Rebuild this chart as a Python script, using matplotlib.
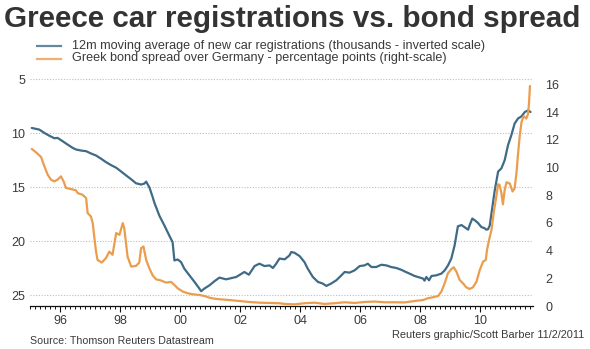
import numpy as np
import matplotlib
matplotlib.use('Agg')
import matplotlib.pyplot as plt
from matplotlib.ticker import FixedLocator, MultipleLocator

plt.rcParams['font.family'] = ['Liberation Sans', 'DejaVu Sans']

# 12m moving average of new car registrations, thousands (left, inverted)
car_years = [1995.06, 1995.31, 1995.48, 1995.64, 1995.81, 1995.92, 1996.09, 1996.25, 1996.42, 1996.53,
             1996.70, 1996.87, 1997.03, 1997.20, 1997.37, 1997.53, 1997.70, 1997.87, 1998.03, 1998.20,
             1998.37, 1998.53, 1998.70, 1998.81, 1998.87, 1998.98, 1999.09, 1999.14, 1999.31, 1999.48,
             1999.64, 1999.75, 1999.81, 1999.92, 2000.03, 2000.14, 2000.31, 2000.48, 2000.64, 2000.70,
             2000.81, 2000.98, 2001.14, 2001.31, 2001.53, 2001.87, 2002.14, 2002.29, 2002.48, 2002.64,
             2002.81, 2002.98, 2003.09, 2003.20, 2003.31, 2003.48, 2003.64, 2003.70, 2003.81, 2003.98,
             2004.14, 2004.25, 2004.42, 2004.59, 2004.75, 2004.87, 2005.03, 2005.20, 2005.37, 2005.48,
             2005.64, 2005.81, 2005.98, 2006.14, 2006.25, 2006.37, 2006.53, 2006.70, 2006.87, 2007.03,
             2007.20, 2007.37, 2007.48, 2007.64, 2007.81, 2007.92, 2008.09, 2008.14, 2008.20, 2008.29,
             2008.37, 2008.53, 2008.70, 2008.81, 2008.92, 2009.03, 2009.14, 2009.25, 2009.37, 2009.48,
             2009.59, 2009.65, 2009.73, 2009.81, 2009.92, 2010.03, 2010.14, 2010.20, 2010.25, 2010.31,
             2010.37, 2010.48, 2010.59, 2010.70, 2010.81, 2010.92, 2011.03, 2011.14, 2011.25, 2011.37,
             2011.48, 2011.59, 2011.67]
car_regs = [9.51, 9.66, 9.97, 10.22, 10.46, 10.43, 10.74, 11.04, 11.35, 11.50,
            11.60, 11.66, 11.87, 12.06, 12.36, 12.67, 12.95, 13.19, 13.53, 13.90,
            14.26, 14.63, 14.75, 14.66, 14.48, 15.03, 15.95, 16.41, 17.64, 18.56,
            19.48, 20.09, 21.78, 21.69, 21.93, 22.54, 23.16, 23.77, 24.38, 24.63,
            24.38, 24.08, 23.71, 23.37, 23.53, 23.31, 22.85, 23.10, 22.30, 22.08,
            22.30, 22.24, 22.48, 22.08, 21.60, 21.68, 21.32, 21.00, 21.07, 21.38,
            21.93, 22.54, 23.31, 23.77, 23.92, 24.14, 23.92, 23.62, 23.16, 22.85,
            22.91, 22.70, 22.30, 22.24, 22.08, 22.39, 22.39, 22.18, 22.24, 22.39,
            22.48, 22.65, 22.80, 23.00, 23.22, 23.31, 23.46, 23.65, 23.31, 23.62,
            23.22, 23.16, 23.00, 22.70, 22.24, 21.62, 20.40, 18.62, 18.50, 18.71,
            18.93, 18.45, 17.90, 18.05, 18.31, 18.68, 18.80, 18.93, 18.90, 18.56,
            17.39, 15.25, 13.55, 13.25, 12.48, 11.10, 10.18, 9.10, 8.64, 8.43,
            8.03, 7.88, 8.03]

# Greek bond spread over Germany, percentage points (right)
spread_years = [1995.06, 1995.20, 1995.37, 1995.48, 1995.59, 1995.70, 1995.81, 1995.92, 1996.03, 1996.12,
                1996.20, 1996.37, 1996.53, 1996.59, 1996.75, 1996.87, 1996.92, 1997.03, 1997.09, 1997.14,
                1997.20, 1997.25, 1997.39, 1997.53, 1997.64, 1997.75, 1997.87, 1997.98, 1998.09, 1998.14,
                1998.25, 1998.37, 1998.53, 1998.64, 1998.70, 1998.78, 1998.87, 1998.98, 1999.09, 1999.20,
                1999.37, 1999.53, 1999.70, 1999.81, 1999.92, 2000.09, 2000.25, 2000.42, 2000.64, 2000.81,
                2000.98, 2001.14, 2001.31, 2001.64, 2001.98, 2002.31, 2002.64, 2002.98, 2003.31, 2003.48,
                2003.81, 2004.14, 2004.48, 2004.81, 2005.14, 2005.48, 2005.81, 2006.14, 2006.48, 2006.81,
                2007.14, 2007.48, 2007.64, 2007.92, 2008.09, 2008.25, 2008.42, 2008.59, 2008.70, 2008.81,
                2008.92, 2009.03, 2009.11, 2009.20, 2009.31, 2009.42, 2009.53, 2009.64, 2009.75, 2009.87,
                2009.98, 2010.09, 2010.18, 2010.22, 2010.29, 2010.37, 2010.45, 2010.53, 2010.59, 2010.64,
                2010.70, 2010.75, 2010.81, 2010.87, 2010.98, 2011.07, 2011.14, 2011.20, 2011.25, 2011.31,
                2011.37, 2011.44, 2011.53, 2011.59, 2011.62, 2011.65]
spread_pts = [11.35, 11.11, 10.77, 10.10, 9.49, 9.13, 9.01, 9.13, 9.37, 9.01,
              8.53, 8.45, 8.36, 8.16, 8.04, 7.80, 6.72, 6.47, 5.99, 5.02,
              3.93, 3.33, 3.14, 3.46, 3.93, 3.70, 5.27, 5.14, 5.99, 5.63,
              3.57, 2.85, 2.90, 3.14, 4.18, 4.30, 3.33, 2.70, 2.20, 1.93,
              1.84, 1.69, 1.74, 1.52, 1.28, 1.04, 0.92, 0.85, 0.80, 0.72,
              0.60, 0.53, 0.49, 0.43, 0.36, 0.29, 0.24, 0.22, 0.20, 0.15,
              0.12, 0.20, 0.24, 0.15, 0.20, 0.27, 0.22, 0.29, 0.32, 0.27,
              0.27, 0.26, 0.31, 0.39, 0.43, 0.56, 0.63, 0.72, 1.04, 1.64,
              2.37, 2.66, 2.80, 2.49, 1.88, 1.64, 1.35, 1.23, 1.35, 1.76,
              2.61, 3.21, 3.33, 4.06, 4.78, 5.51, 6.84, 7.90, 8.80, 8.75,
              8.16, 7.35, 8.40, 8.95, 8.85, 8.28, 8.50, 9.60, 10.90, 12.30,
              13.30, 13.72, 13.55, 13.90, 14.70, 15.90]

year_ticks = [1996, 1998, 2000, 2002, 2004, 2006, 2008, 2010]
year_labels = ['96', '98', '00', '02', '04', '06', '08', '10']
left_ticks = [5, 10, 15, 20, 25]
right_ticks = [0, 2, 4, 6, 8, 10, 12, 14, 16]

blue = '#3f6b86'
orange = '#eb9d4e'
txt = '#3a3a3a'

fig = plt.figure(figsize=(5.9, 3.49), dpi=100)
fig.patch.set_facecolor('white')

ax = fig.add_axes([0.0508, 0.1232, 0.8525, 0.662])
ax2 = ax.twinx()

ax.plot(car_years, car_regs, color=blue, lw=1.6, solid_capstyle='round')
ax2.plot(spread_years, spread_pts, color=orange, lw=1.6, solid_capstyle='round')

ax.set_xlim(1995.0, 2011.75)
ax.set_ylim(26, 4.6)
ax2.set_ylim(0, 16.7)

ax.yaxis.set_major_locator(FixedLocator(left_ticks))
ax2.yaxis.set_major_locator(FixedLocator(right_ticks))
ax.grid(axis='y', color='#bdbdbd', lw=0.8, ls=(0, (1, 1.5)))

ax.set_xticks(year_ticks)
ax.set_xticklabels(year_labels)
ax.xaxis.set_minor_locator(MultipleLocator(1 / 6))

for a in (ax, ax2):
    for s in ('top', 'left', 'right'):
        a.spines[s].set_visible(False)
ax2.spines['bottom'].set_visible(False)
ax.spines['bottom'].set_color('#111111')
ax.spines['bottom'].set_linewidth(0.9)

ax.tick_params(axis='x', which='major', direction='out', length=4, width=0.8,
               color='#111111', labelsize=9, labelcolor=txt, pad=2.5)
ax.tick_params(axis='x', which='minor', direction='out', length=2.2, width=0.7,
               color='#111111')
ax.tick_params(axis='y', length=0, labelsize=9, labelcolor=txt, pad=3.5)
ax2.tick_params(axis='y', length=0, labelsize=9, labelcolor=txt, pad=9)

# title
fig.text(4 / 590, 1 - 27 / 349, 'Greece car registrations vs. bond spread',
         fontsize=21.3, fontweight='bold', color='#333333', ha='left', va='baseline')

# legend drawn by hand as in the original
leg = [(blue, '12m moving average of new car registrations (thousands - inverted scale)', 45.5),
       (orange, 'Greek bond spread over Germany - percentage points (right-scale)', 58.5)]
for col, label, ypx in leg:
    yf = 1 - ypx / 349
    fig.add_artist(plt.Line2D([37 / 590, 61 / 590], [yf, yf], color=col, lw=1.6, alpha=0.8))
    fig.text(72 / 590, yf, label, fontsize=9.1, color=txt, ha='left', va='center')

fig.text(30 / 590, 1 - 344 / 349, 'Source: Thomson Reuters Datastream',
         fontsize=7.7, color=txt, ha='left', va='baseline')
fig.text(584 / 590, 1 - 338 / 349, 'Reuters graphic/Scott Barber 11/2/2011',
         fontsize=7.9, color=txt, ha='right', va='baseline')

fig.savefig('out.png', dpi=100, facecolor='white')
